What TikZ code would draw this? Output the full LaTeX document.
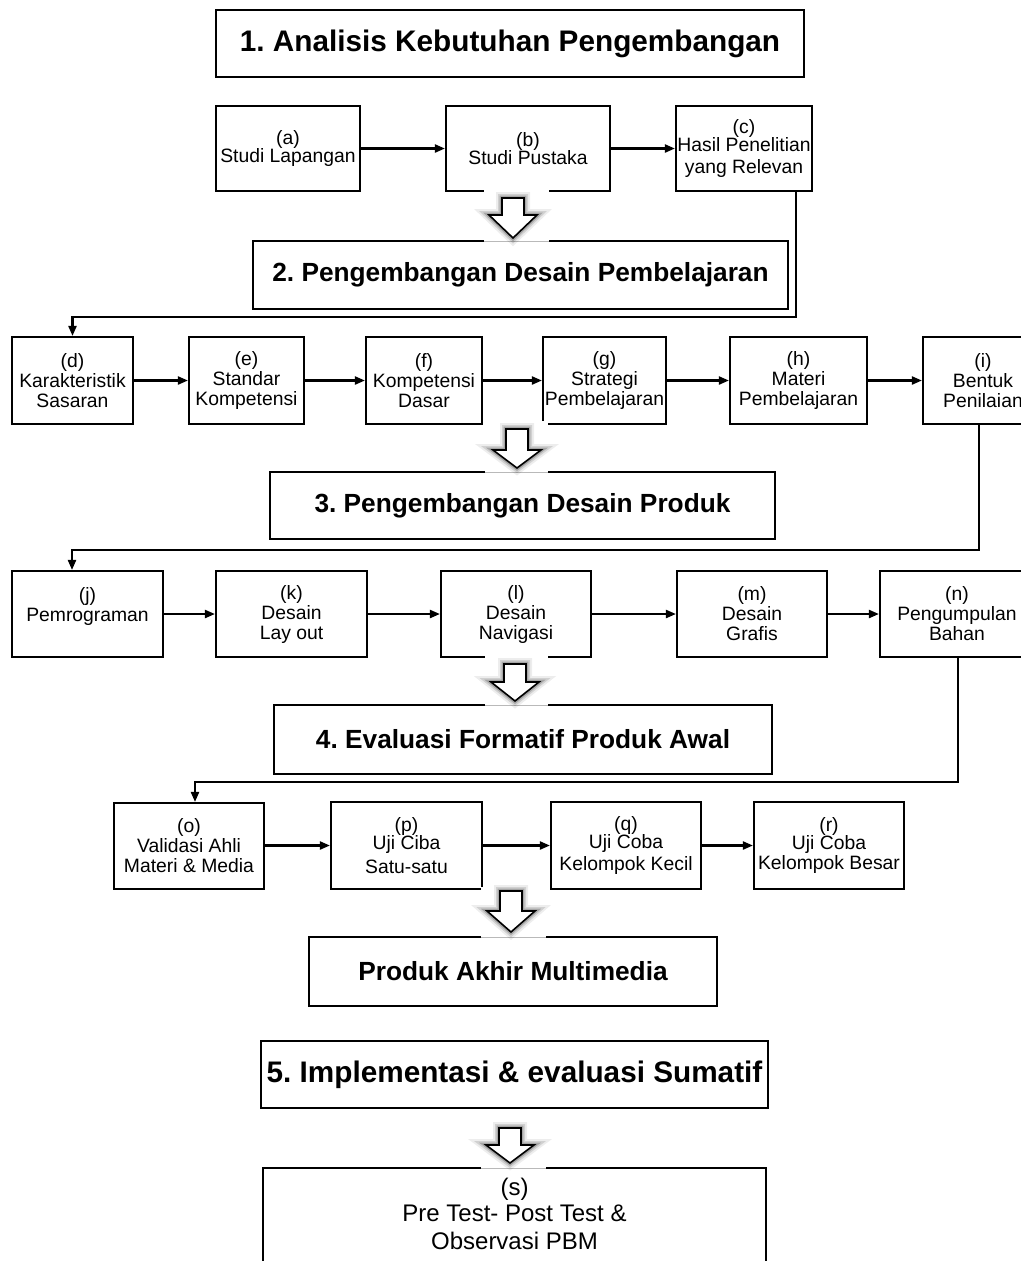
\documentclass[tikz,border=0pt]{standalone}
\usepackage{fontspec}
\setmainfont{Liberation Sans}
\usetikzlibrary{arrows.meta,calc}
\frenchspacing
\newcommand\hollowarrow[4]{%
  \draw[bigarr] (#1-11,#2) -- (#1+11,#2) -- (#1+11,#3) -- (#1+24,#3) -- (#1,#4) -- (#1-24,#3) -- (#1-11,#3) -- cycle;}
\newcommand\gapbox[4]{%
  \fill[white] (#1,#2) rectangle (#3,#4);
  \draw[gray!55, line width=0.6pt] (#1,#4-2.5) -- (#3,#4-2.5);}
\newcommand\bx[7]{%
  \node[#1, minimum width={(#5-#3)*0.75pt}, minimum height={(#6-#4)*0.75pt}] (#2) at ({(#3+#5)/2},{(#4+#6)/2}) {#7};}
\begin{document}
\begin{tikzpicture}[x=0.75pt,y=-0.75pt,
  box/.style={draw, line width=1.6pt, fill=white, inner sep=0pt, align=center,
    font=\fontsize{14.5}{15}\selectfont},
  hbox/.style={draw, line width=1.6pt, fill=white, inner sep=0pt, align=center,
    font=\fontsize{19.7}{23}\selectfont\bfseries},
  tbox/.style={hbox, font=\fontsize{22.3}{26}\selectfont\bfseries},
  conn/.style={line width=1.6pt},
  arr/.style={conn, -{Triangle[length=7.5pt,width=6pt]}},
  bigarr/.style={fill=white, draw=black, line width=1.2pt, line join=miter,
    preaction={draw=black, line width=9pt, opacity=0.07},
    preaction={draw=black, line width=6pt, opacity=0.12},
    preaction={draw=black, line width=3.5pt, opacity=0.2}}]
\useasboundingbox (0,0) rectangle (1021,1261);

% header 1
\bx{tbox}{h1}{216}{10}{804}{77}{1. Analisis Kebutuhan Pengembangan}

% row 1
\bx{box}{a}{216}{106}{360}{191}{(a)\\[-1.5pt]Studi Lapangan}
\bx{box}{b}{446}{106}{610}{191}{(b)\\[-1.5pt]Studi Pustaka}
\bx{box}{c}{676}{106}{812}{191}{(c)\\[-1.5pt]Hasil Penelitian\\[1pt]yang Relevan}

\bx{hbox}{h2}{253}{241}{788}{309}{2. Pengembangan Desain Pembelajaran}

% row 2
\bx{box}{d}{12}{337}{133}{424}{(d)\\Karakteristik\\Sasaran}
\bx{box}{e}{189}{337}{304}{424}{(e)\\Standar\\Kompetensi}
\bx{box}{f}{366}{337}{482}{424}{(f)\\Kompetensi\\Dasar}
\bx{box}{g}{543}{337}{666}{424}{(g)\\Strategi\\Pembelajaran}
\bx{box}{h}{730}{337}{867}{424}{(h)\\Materi\\Pembelajaran}
\bx{box}{i}{923}{337}{1043}{424}{(i)\\Bentuk\\Penilaian}

\bx{hbox}{h3}{270}{472}{775}{539}{3. Pengembangan Desain Produk}

% row 3
\bx{box}{j}{12}{571}{163}{657}{(j)\\Pemrograman\\\mbox{}}
\bx{box}{k}{216}{571}{367}{657}{(k)\\Desain\\Lay out}
\bx{box}{l}{441}{571}{591}{657}{(l)\\Desain\\Navigasi}
\bx{box}{m}{677}{571}{827}{657}{(m)\\Desain\\Grafis}
\bx{box}{n}{880}{571}{1034}{657}{(n)\\Pengumpulan\\Bahan}

\bx{hbox}{h4}{274}{705}{772}{774}{4. Evaluasi Formatif Produk Awal}

% row 4
\bx{box}{o}{114}{803}{264}{889}{(o)\\Validasi Ahli\\Materi \& Media}
\bx{box}{p}{331}{802}{482}{889}{(p)\\[-1.5pt]Uji Ciba\\[3pt]Satu-satu}
\bx{box}{q}{551}{802}{701}{889}{(q)\\[-1.5pt]Uji Coba\\[1pt]Kelompok Kecil}
\bx{box}{r}{754}{802}{904}{889}{(r)\\[-1.5pt]Uji Coba\\Kelompok Besar}

\bx{hbox}{hp}{309}{937}{717}{1006}{Produk Akhir Multimedia}
\bx{tbox}{h5}{261}{1041}{768}{1108}{5. Implementasi \& evaluasi Sumatif}

\bx{box}{s}{263}{1168}{766}{1290}{}
\node[align=center, inner sep=0pt, font=\fontsize{18}{21}\selectfont] (st) at (514.5,1214) {(s)\\[-2pt]Pre Test- Post Test \&\\Observasi PBM};

% connectors
\draw[arr] (a) -- (b);
\draw[arr] (b) -- (c);
\coordinate (k1) at (796,317);
\draw[arr] (k1 |- c.south) -- (k1) -| (d.north);
\draw[arr] (d) -- (e);
\draw[arr] (e) -- (f);
\draw[arr] (f) -- (g);
\draw[arr] (g) -- (h);
\draw[arr] (h) -- (i);
\coordinate (k2) at (979,550);
\coordinate (k3) at (72,550);
\draw[arr] (k2 |- i.south) -- (k2) -- (k3) -- (k3 |- j.north);
\draw[arr] (j) -- (k);
\draw[arr] (k) -- (l);
\draw[arr] (l) -- (m);
\draw[arr] (m) -- (n);
\coordinate (k4) at (958,782);
\coordinate (k5) at (195,782);
\draw[arr] (k4 |- n.south) -- (k4) -- (k5) -- (k5 |- o.north);
\draw[arr] (o.east |- p.west) -- (p.west);
\draw[arr] (p) -- (q);
\draw[arr] (q) -- (r);

% big hollow arrows with gaps
\gapbox{484}{187}{549}{244}
\hollowarrow{513}{198}{215}{238}
\gapbox{485}{421}{548}{475}
\hollowarrow{517}{429}{450}{468}
\gapbox{485}{655}{548}{708}
\hollowarrow{515}{664}{682}{701}
\gapbox{481}{887}{546}{940}
\hollowarrow{511}{891}{911}{932}
\gapbox{481}{1112}{546}{1171}
\hollowarrow{510}{1128}{1145}{1163}
\end{tikzpicture}
\end{document}
